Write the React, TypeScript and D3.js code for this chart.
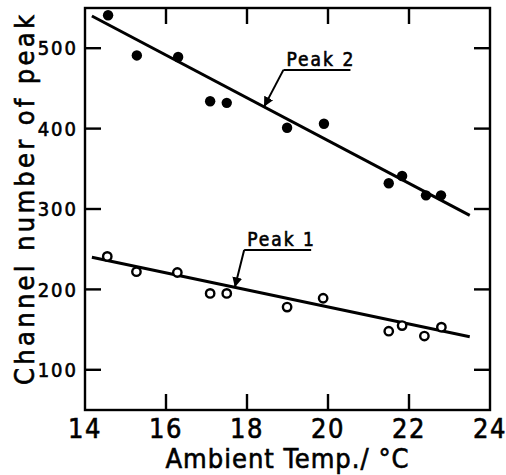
import React from "react";
import * as d3 from "d3";

const temps1 = [14.55, 15.27, 16.28, 17.09, 17.5, 18.99, 19.88, 21.5, 21.83, 22.38, 22.8];
const peak1 = [241, 222, 221, 195, 195, 178, 189, 148, 155, 142, 153];
const temps2 = [14.57, 15.28, 16.3, 17.09, 17.5, 18.99, 19.9, 21.5, 21.83, 22.42, 22.79];
const peak2 = [541, 491, 489, 434, 432, 401, 406, 332, 341, 317, 317];
const fitX = [14.17, 23.5];
const fit1 = [240, 141];
const fit2 = [540, 292];
const xTicks = [14, 16, 18, 20, 22, 24];
const yTicks = [100, 200, 300, 400, 500];
const innerXTicks = [16, 18, 20, 22];
// annotations: label, underline start (data coords), tip x on fit line
const annLabels = ["Peak 2", "Peak 1"];
const annX = [18.9, 17.93];
const annY = [473, 249];
const annTipX = [18.42, 17.7];

const W = 506, H = 475;
const x = d3.scaleLinear().domain([14, 24]).range([85, 490]);
const y = d3.scaleLinear().domain([50, 550]).range([410, 8]);
const font = "'DejaVu Sans Condensed', 'DejaVu Sans', sans-serif";
const txt = { fontFamily: font, fontStretch: "condensed", stroke: "#000", strokeWidth: 0.6 } as React.CSSProperties;

function fitAt(fit: number[], t: number) {
  return fit[0] + ((fit[1] - fit[0]) * (t - fitX[0])) / (fitX[1] - fitX[0]);
}

export default function App() {
  const line = d3.line<[number, number]>().x((d) => x(d[0])).y((d) => y(d[1]));
  const fits = [fit2, fit1];
  const [x0, x1] = x.range();
  const [yb, yt] = y.range();
  const tl = 16;
  return (
    <svg width={W} height={H} style={{ position: "absolute", left: 0, top: 0, background: "#fff" }}>
      <defs>
        <marker id="arr" viewBox="0 0 10 10" refX="10" refY="5" markerWidth="5" markerHeight="6" orient="auto">
          <path d="M0,0 L10,5 L0,10 z" fill="#000" />
        </marker>
      </defs>
      <rect x={x0} y={yt} width={x1 - x0} height={yb - yt} fill="none" stroke="#000" strokeWidth={2.4} />
      {innerXTicks.map((t) => (
        <g key={"xt" + t}>
          <line x1={x(t)} x2={x(t)} y1={yt} y2={yt + tl} stroke="#000" strokeWidth={2.4} />
          <line x1={x(t)} x2={x(t)} y1={yb} y2={yb - tl} stroke="#000" strokeWidth={2.4} />
        </g>
      ))}
      {yTicks.map((t) => (
        <g key={"yt" + t}>
          <line x1={x0} x2={x0 + tl} y1={y(t)} y2={y(t)} stroke="#000" strokeWidth={2.4} />
          <line x1={x1} x2={x1 - tl} y1={y(t)} y2={y(t)} stroke="#000" strokeWidth={2.4} />
          <text x={78} y={y(t)} dy="0.36em" textAnchor="end" style={txt} fontSize={20} letterSpacing={2}>
            {t}
          </text>
        </g>
      ))}
      {xTicks.map((t) => (
        <text key={"xl" + t} x={x(t)} y={438} textAnchor="middle" style={txt} fontSize={27} letterSpacing={1.5}>
          {t}
        </text>
      ))}
      <text x={287} y={468} textAnchor="middle" style={txt} fontSize={27} textLength={243} lengthAdjust="spacing">
        Ambient Temp./ °C
      </text>
      <text
        transform={`translate(34,200) rotate(-90)`}
        textAnchor="middle"
        style={txt}
        fontSize={27}
        textLength={370}
        lengthAdjust="spacing"
      >
        Channel number of peak
      </text>
      {fits.map((f, i) => (
        <path key={"fit" + i} d={line(fitX.map((t, j) => [t, f[j]]) as [number, number][]) || ""} stroke="#000" strokeWidth={3} fill="none" />
      ))}
      {temps2.map((t, i) => (
        <circle key={"p2" + i} cx={x(t)} cy={y(peak2[i])} r={5.2} fill="#000" />
      ))}
      {temps1.map((t, i) => (
        <circle key={"p1" + i} cx={x(t)} cy={y(peak1[i])} r={4.2} fill="#fff" stroke="#000" strokeWidth={2.4} />
      ))}
      {annLabels.map((lab, i) => {
        const ux = x(annX[i]);
        const uy = y(annY[i]);
        const tx = x(annTipX[i]);
        const ty = y(fitAt(fits[i], annTipX[i]));
        return (
          <g key={"ann" + i}>
            <text x={ux + 3} y={uy - 4} style={txt} fontSize={19} letterSpacing={2}>
              {lab}
            </text>
            <line x1={ux} x2={ux + 67} y1={uy} y2={uy} stroke="#000" strokeWidth={2} />
            <line x1={ux} y1={uy} x2={tx} y2={ty} stroke="#000" strokeWidth={2} markerEnd="url(#arr)" />
          </g>
        );
      })}
    </svg>
  );
}
